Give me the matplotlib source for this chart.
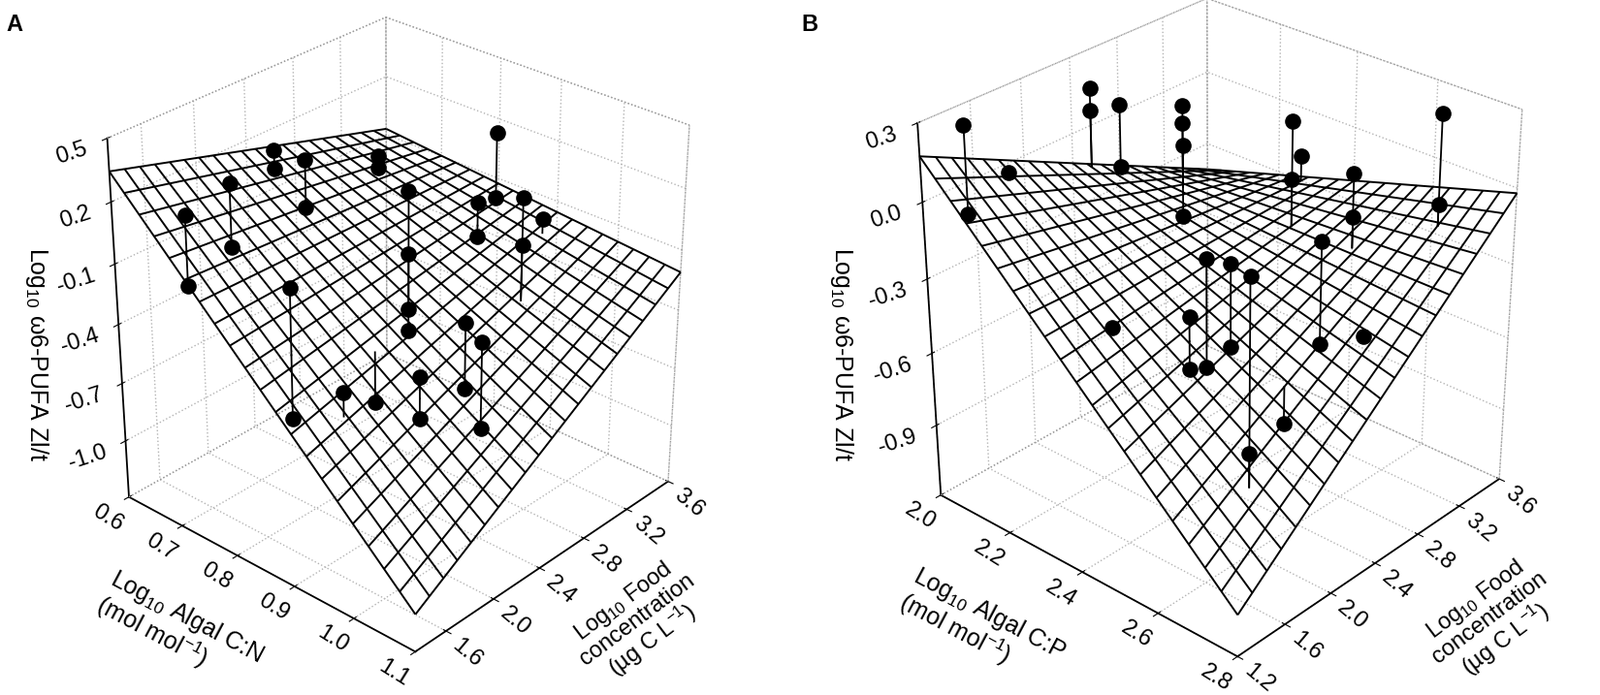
import numpy as np
import matplotlib
matplotlib.use('Agg')
import matplotlib.pyplot as plt
from matplotlib.ticker import FormatStrFormatter

plt.rcParams['font.family'] = ['Liberation Sans', 'DejaVu Sans']
plt.rcParams['axes.unicode_minus'] = False
plt.rcParams['mathtext.default'] = 'regular'
plt.rcParams['grid.color'] = '#b4b4b4'
plt.rcParams['grid.linestyle'] = ':'
plt.rcParams['grid.linewidth'] = 1.0

# ---- panel A : algal C:N ----
a_cn = [0.70, 0.70, 0.68, 0.68, 0.63, 0.63, 0.67, 0.67, 0.68, 0.68,
        0.82, 0.82, 0.82, 0.82, 0.82, 0.82, 0.84, 0.84, 0.96, 0.96,
        0.91, 0.84, 0.84, 0.96, 0.96, 1.00, 1.00, 0.92, 0.89, 0.96, 0.96]
a_food = [1.48, 1.48, 1.91, 1.91, 2.49, 2.49, 2.56, 2.56, 3.13, 3.13,
          3.47, 3.47, 2.70, 2.70, 2.70, 2.70, 3.20, 3.20, 2.95, 2.95,
          3.41, 1.64, 1.64, 2.47, 2.47, 2.40, 2.40, 1.67, 2.07, 2.09, 2.09]
a_pufa = [0.22, -0.12, 0.22, -0.09, 0.16, 0.07, 0.14, -0.10, 0.01, -0.05,
          0.19, -0.14, 0.12, -0.19, -0.47, -0.58, -0.06, -0.23, 0.18, -0.05,
          -0.12, 0.00, -0.64, -0.28, -0.61, -0.30, -0.73, -0.41, -0.64, -0.42, -0.63]
# fitted surface at the corners [cn min/max][food min/max]
a_fit = [[0.345, -0.07], [-1.11, -0.21]]
a_xlim, a_ylim, a_zlim = (0.6, 1.1), (1.35, 3.6), (-1.3, 0.5)
a_xticks = [0.6, 0.7, 0.8, 0.9, 1.0, 1.1]
a_yticks = [1.6, 2.0, 2.4, 2.8, 3.2, 3.6]
a_zticks = [-1.0, -0.7, -0.4, -0.1, 0.2, 0.5]

# ---- panel B : algal C:P ----
b_cp = [2.06, 2.06, 2.03, 2.01, 2.01, 2.01, 2.01, 2.13, 2.13, 2.13, 2.13,
        2.40, 2.40, 2.28, 2.55, 2.55, 2.68, 2.68, 2.44, 2.44, 2.46, 2.46,
        2.46, 2.46, 2.70, 2.70, 2.64, 2.57, 2.57, 2.69, 2.36]
b_food = [1.38, 1.38, 1.79, 2.53, 2.53, 2.78, 2.78, 2.95, 2.95, 2.95, 2.95,
          3.02, 3.02, 3.53, 3.04, 3.04, 3.34, 3.34, 2.14, 2.14, 2.28, 2.28,
          1.93, 1.93, 1.63, 1.63, 2.13, 2.69, 2.69, 2.64, 1.61]
b_pufa = [0.29, -0.05, 0.00, 0.16, 0.07, 0.04, -0.21, 0.07, 0.00, -0.09, -0.38,
          0.15, -0.08, -0.17, 0.03, -0.14, 0.27, -0.08, -0.16, -0.59, -0.20, -0.53,
          -0.32, -0.53, 0.07, -0.60, -0.67, -0.14, -0.55, -0.42, -0.35]
b_fit = [[0.175, -0.41], [-1.03, -0.02]]
b_xlim, b_ylim, b_zlim = (2.0, 2.8), (1.2, 3.6), (-1.2, 0.3)
b_xticks = [2.0, 2.2, 2.4, 2.6, 2.8]
b_yticks = [1.2, 1.6, 2.0, 2.4, 2.8, 3.2, 3.6]
b_zticks = [-0.9, -0.6, -0.3, 0.0, 0.3]

z_label = 'Log$_{10}$ ω6-PUFA Zl/t'
food_label = 'Log$_{10}$ Food\nconcentration\n(µg C L$^{-1}$)'
FS = 17


def fit_surface(x, y, fit, xlim, ylim):
    u = (np.asarray(x) - xlim[0]) / (xlim[1] - xlim[0])
    v = (np.asarray(y) - ylim[0]) / (ylim[1] - ylim[0])
    return (fit[0][0] * (1 - u) * (1 - v) + fit[1][0] * u * (1 - v)
            + fit[0][1] * (1 - u) * v + fit[1][1] * u * v)


def draw_panel(ax, xs, ys, zs, fit, xlim, ylim, zlim, xt, yt, zt, zoom):
    ax.computed_zorder = False
    ax.set_proj_type('persp', focal_length=0.7)
    ax.view_init(elev=29.5, azim=-48)
    ax.set_box_aspect((1, 1, 1.035), zoom=zoom)
    ax.set_xlim(xlim)
    ax.set_ylim(ylim)
    ax.set_zlim(zlim)

    # wireframe of fitted surface
    gx, gy = np.meshgrid(np.linspace(xlim[0], xlim[1], 21), np.linspace(ylim[0], ylim[1], 21))
    gz = fit_surface(gx, gy, fit, xlim, ylim)
    ax.plot_wireframe(gx, gy, gz, rstride=1, cstride=1, color='black', linewidth=1.4, zorder=2)

    # spikes to surface and points
    foot = fit_surface(xs, ys, fit, xlim, ylim)
    for x, y, z, f in zip(xs, ys, zs, foot):
        ax.plot([x, x], [y, y], [z, f], color='black', linewidth=1.3, zorder=3)
    ax.scatter(xs, ys, zs, s=120, color='black', depthshade=False, zorder=4)

    # dotted back edges of the box
    x0, x1 = xlim
    y0, y1 = ylim
    z0, z1 = zlim
    edge = dict(color='#9a9a9a', linestyle=':', linewidth=1.0, zorder=1)
    ax.plot([x0, x0], [y0, y1], [z1, z1], **edge)
    ax.plot([x0, x1], [y1, y1], [z1, z1], **edge)
    ax.plot([x0, x0], [y1, y1], [z0, z1], **edge)
    ax.plot([x1, x1], [y1, y1], [z0, z1], **edge)
    ax.plot([x0, x0], [y0, y1], [z0, z0], **edge)
    ax.plot([x0, x1], [y1, y1], [z0, z0], **edge)

    for axis in (ax.xaxis, ax.yaxis, ax.zaxis):
        axis.pane.set_facecolor((1, 1, 1, 1))
        axis.pane.set_edgecolor((1, 1, 1, 0))
        axis.line.set_color('black')
        axis.line.set_linewidth(1.3)

    ax.zaxis.set_ticks_position('lower')
    ax.zaxis.set_label_position('lower')

    ax.set_xticks(xt)
    ax.set_yticks(yt)
    ax.set_zticks(zt)
    for axis in (ax.xaxis, ax.yaxis, ax.zaxis):
        axis.set_major_formatter(FormatStrFormatter('%.1f'))
    ax.tick_params(axis='x', labelsize=FS, pad=-6, labelrotation=-32)
    ax.tick_params(axis='y', labelsize=FS, pad=-6, labelrotation=-40)
    ax.tick_params(axis='z', labelsize=FS, pad=0, labelrotation=18)
    for t in ax.xaxis.get_majorticklabels():
        t.set_horizontalalignment('right')
    for t in ax.yaxis.get_majorticklabels():
        t.set_horizontalalignment('left')
    for t in ax.zaxis.get_majorticklabels():
        t.set_horizontalalignment('right')


fig = plt.figure(figsize=(16.5, 7.17), dpi=100)
fig.patch.set_facecolor('white')

axA = fig.add_axes([-0.006, 0.03, 0.50, 1.0], projection='3d')
draw_panel(axA, a_cn, a_food, a_pufa, a_fit, a_xlim, a_ylim, a_zlim,
           a_xticks, a_yticks, a_zticks, 0.97)

axB = fig.add_axes([0.5025, 0.042, 0.51, 1.0], projection='3d')
draw_panel(axB, b_cp, b_food, b_pufa, b_fit, b_xlim, b_ylim, b_zlim,
           b_xticks, b_yticks, b_zticks, 1.006)

# axis titles
lab = dict(ha='center', va='center', rotation_mode='anchor', linespacing=1.0)
fig.text(0.112, 0.093, 'Log$_{10}$ Algal C:N\n(mol mol$^{-1}$)', rotation=-28,
         fontsize=18, multialignment='left', **lab)
fig.text(0.399, 0.106, food_label, rotation=37, fontsize=17, multialignment='center', **lab)
fig.text(0.023, 0.49, z_label, rotation=-90, fontsize=18, **lab)

fig.text(0.614, 0.097, 'Log$_{10}$ Algal C:P\n(mol mol$^{-1}$)', rotation=-28,
         fontsize=18, multialignment='left', **lab)
fig.text(0.932, 0.108, food_label, rotation=37, fontsize=17, multialignment='center', **lab)
fig.text(0.526, 0.49, z_label, rotation=-90, fontsize=18, **lab)

fig.text(0.004, 0.955, 'A', fontsize=17, fontweight='bold')
fig.text(0.501, 0.955, 'B', fontsize=17, fontweight='bold')

fig.savefig('out.png', dpi=100, facecolor='white')
